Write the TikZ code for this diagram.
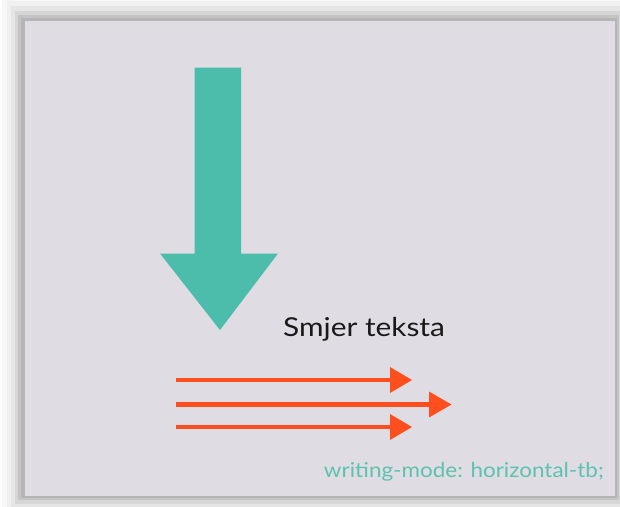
\documentclass[tikz,border=0pt]{standalone}
\usepackage{fontspec}
\usepackage{graphicx}
\setmainfont{Lato}
\definecolor{bgpanel}{HTML}{DFDCE3}
\definecolor{tealc}{HTML}{4BBDAA}
\definecolor{tealtxt}{HTML}{5CC3AF}
\definecolor{orangec}{HTML}{FF4F1F}
\tikzset{
  orangearrow/.style={draw=orangec, line width=4.7pt},
  orangehead/.style={fill=orangec, draw=none},
}
\begin{document}
\begin{tikzpicture}[x=1pt,y=-1pt]
\useasboundingbox (0,0) rectangle (620,506);
\fill[white] (0,0) rectangle (620,506);
% soft shadow frame
\fill[black!3]  (2,-4) rectangle (632,516);
\fill[black!6]  (7,1) rectangle (627,511);
\fill[black!10] (11,6) rectangle (624,508);
\fill[black!16] (15,11) rectangle (621,504);
\fill[black!23] (18,15) rectangle (619,500);
\fill[black!29] (21,18) rectangle (617,498);
% panel
\fill[bgpanel] (25,21) rectangle (615,496);
% big teal arrow
\coordinate (tipA) at (220,330);
\fill[tealc] (194.5,67.5) -- (241,67.5) -- (241,253.5) -- (278,253.5) -- (tipA) -- (160,253.5) -- (194.5,253.5) -- cycle;
% orange arrows
\coordinate (a1s) at (175.5,380);
\coordinate (a1e) at (391,380);
\coordinate (a2s) at (175.5,404.5);
\coordinate (a2e) at (430,404.5);
\coordinate (a3s) at (175.5,427);
\coordinate (a3e) at (391,427);
\draw[orangearrow] (a1s) -- (a1e);
\draw[orangearrow] (a2s) -- (a2e);
\draw[orangearrow] (a3s) -- (a3e);
\fill[orangehead] (390,367) -- (412,380) -- (390,393) -- cycle;
\fill[orangehead] (429,391.5) -- (451.5,404.5) -- (429,417.5) -- cycle;
\fill[orangehead] (390,414) -- (412,427) -- (390,440) -- cycle;
% texts
\node[anchor=base west, inner sep=0pt, font=\fontsize{26}{29}\selectfont, text=black!90] (title) at (283,336.5) {\scalebox{1.147}[1]{Smjer teksta}};
\node[anchor=base east, inner sep=0pt, font=\fontsize{20.5}{23}\selectfont, text=tealtxt] (mode) at (604,477) {\scalebox{1.096}[1]{writing-mode: horizontal-tb;}};
\end{tikzpicture}
\end{document}
